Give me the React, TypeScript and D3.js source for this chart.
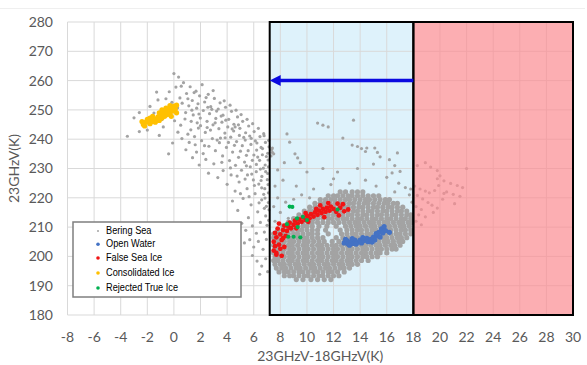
import React from "react";
import * as d3 from "d3";

// ---------- DATA ----------
const xTicks = [-8, -6, -4, -2, 0, 2, 4, 6, 8, 10, 12, 14, 16, 18, 20, 22, 24, 26, 28, 30];
const yTicks = [180, 190, 200, 210, 220, 230, 240, 250, 260, 270, 280];
const xTitle = "23GHzV-18GHzV(K)";
const yTitle = "23GHzV(K)";
const legendLabels = ["Bering Sea", "Open Water", "False Sea Ice", "Consolidated Ice", "Rejected True Ice"];

// Bering Sea – scattered cloud (x, y)
const beringScatter: [number, number][] = [
  [-0.35,256.2],[0.15,257.8],[0.45,254.1],[0.72,259.3],[0.95,255.6],[1.22,257.9],[1.38,253.2],[1.66,256.4],[1.93,254.8],
  [2.12,258.6],[2.31,252.7],[2.58,255.3],[2.77,251.1],[3.04,253.9],[3.21,249.6],[3.47,252.4],[3.69,248.2],[3.88,250.9],
  [4.12,246.8],[4.33,249.5],[4.51,245.1],[4.78,247.6],[4.96,243.7],[5.17,246.1],[5.39,242.2],[5.62,244.5],[5.81,240.3],
  [6.03,242.6],[6.24,238.7],[6.47,240.9],[6.66,236.8],[6.88,238.9],[7.05,235.2],
  [-0.15,252.6],[0.28,250.7],[0.62,252.3],[0.88,249.1],[1.12,251.4],[1.45,248.3],[1.71,250.6],[1.98,247.2],[2.21,249.8],
  [2.49,246.1],[2.68,248.7],[2.94,244.9],[3.15,247.1],[3.38,243.6],[3.61,245.8],[3.83,242.1],[4.05,244.2],[4.27,240.7],
  [4.49,242.8],[4.71,239.2],[4.92,241.3],[5.14,237.8],[5.36,239.7],[5.58,236.1],[5.79,238.2],[6.01,234.6],[6.22,236.3],
  [6.44,232.8],[6.65,234.7],[6.86,231.2],[7.08,232.9],
  [0.05,246.3],[0.51,244.8],[0.83,246.9],[1.27,243.2],[1.55,240.9],[1.84,243.8],[2.08,239.5],[2.36,242.3],[2.63,237.6],
  [2.89,240.2],[3.12,236.1],[3.42,238.8],[3.66,234.3],[3.95,237.2],[4.18,232.7],[4.41,235.6],[4.63,231.1],[4.86,233.8],
  [5.08,229.4],[5.31,232.2],[5.53,227.8],[5.74,230.6],[5.97,226.1],[6.19,228.9],[6.38,224.7],[6.61,227.3],[6.83,223.1],[7.02,226.2],
  [0.9,236.4],[1.4,233.7],[1.9,231.2],[2.2,235.1],[2.6,228.4],[3.0,231.6],[3.3,226.9],[3.7,229.3],[4.0,224.6],[4.3,227.8],
  [4.6,222.3],[4.9,225.4],[5.2,219.8],[5.5,223.1],[5.8,217.6],[6.1,221.4],[6.3,215.2],[6.6,219.3],[6.9,213.8],[7.1,218.4],
  [5.6,213.2],[5.9,210.4],[6.2,207.9],[6.5,211.6],[6.8,208.3],[5.4,208.9],[5.7,205.7],[6.0,203.2],[6.35,205.1],[6.7,202.4],
  [6.95,205.8],[5.9,200.3],[6.25,198.4],[6.6,196.7],[6.9,199.2],[7.05,194.8],[6.45,193.9],[5.3,204.6],[5.1,211.3],[4.8,215.7],
  [4.4,218.9],[5.0,221.4],[6.8,216.4],[7.0,210.6],[7.1,221.7],[6.5,229.8],[7.05,228.3],[6.2,231.4],[6.75,241.9],
  [-1.8,251.2],[-2.6,249.1],[-3.0,247.3],[-1.2,253.4],[-1.5,248.9],[-2.0,243.1],[-2.6,242.6],[-0.8,244.2],[-1.1,241.3],
  [-3.5,241.0],[-1.3,256.1],[-0.7,249.6],[-0.1,238.7],[-0.4,235.0],[0.6,240.2],[0.3,242.4],[-0.6,253.8],[-0.9,246.7],
  [0.35,261.2],[0.0,262.4],[1.6,238.1],[1.15,238.9],[2.0,244.6],[1.05,241.7],[2.4,233.1],[3.5,240.4],[4.1,238.9],[1.75,245.6],
  [2.85,250.2],[4.6,244.2],[5.45,234.5],[3.9,246.5],[2.5,244.0],[1.3,246.1],
  [0.55,258.1],[1.05,253.8],[1.52,255.9],[1.81,252.1],[2.42,254.2],[2.95,256.6],[3.33,250.3],[3.78,253.1],[4.22,251.6],
  [4.67,249.9],[5.05,248.4],[5.5,246.8],[5.92,245.3],[6.35,243.7],[6.78,241.2],[7.12,239.6],
  [1.35,249.9],[1.88,248.6],[2.55,250.9],[3.1,245.6],[3.55,247.9],[4.38,243.5],[4.85,244.9],[5.25,240.6],[5.7,241.1],
  [6.12,239.4],[6.55,237.2],[6.95,234.1],[7.15,237.4],
  [2.75,243.1],[3.25,239.7],[3.85,240.5],[4.55,237.9],[5.0,235.9],[5.45,230.9],[5.9,232.8],[6.3,233.9],[6.72,230.1],
  [7.1,230.6],[6.9,228.9],[6.55,225.9],[7.08,224.5],[6.75,221.2],[7.15,215.9],[6.85,219.9],[6.6,223.4],[7.12,212.3],[6.95,217.1],
  [2.3,237.8],[1.7,235.6],[3.6,232.1],[4.25,230.2],[4.75,227.4],[5.35,226.4],[5.85,228.1],[6.05,224.2],[6.4,218.3],[5.65,220.4],
  // inside the blue zone, above the dense mass
  [10.8,245.5],[11.2,244.8],[11.6,244.2],[13.5,246.5],[8.5,241.8],[8.7,239],[12.7,240.4],[13.4,238],[13.8,237.5],
  [14.1,236.8],[14.4,235.8],[7.4,237],[7.5,235],[9.1,235],[9.3,233.6],[9.5,232],[7.8,229.5],[8.3,232],[11.2,230],
  [12.3,228.8],[10,228.8],[14.4,226],[14.5,237],[15.1,237],[15.3,235.5],[15.5,234],[16.8,235.3],[16.2,233],
  [16.6,231],[17.0,229],[16.4,228.5],[16.0,227],[16.9,225],[17.4,223.5],[17.7,221],[16.6,222],[15.2,224],
  [13.2,225],[11.8,224.5],[10.5,223],[9.2,224],[8.2,226],[7.6,224],[7.8,220],[8.4,218.5],[9.0,219.5],[9.6,221],
  [8.0,215],[7.6,212],[8.6,213],[7.5,217],[10.2,220],[12,226.5],[13.8,230],[15,231.5],[7.35,236.5],[7.4,235.5],[7.3,234.3],
  // inside the red zone
  [18.3,231],[18.9,232],[19.3,230.5],[19.8,229.3],[20.0,227.5],[22,230],[19.8,226.5],[20.3,225.8],[20.8,224.9],
  [21.3,224.2],[21.7,223.5],[20.5,222],[21.0,221.2],[21.5,220.5],[20.2,219.5],[21.1,218],[18.1,224],[18.5,223],
  [18.9,222.3],[19.2,221.7],[19.6,222.5],[18.3,220.8],[18.7,219.6],[19.1,218.4],[19.4,217.5],[18.2,217],[18.6,216],
  [19.8,216.5],[18.4,214.2],[18.9,213.5],[18.2,212],[18.6,210.8],[19.5,215],[20.3,221.5],[19.9,224.2],[17.9,218.5],[17.8,223],
];

// Bering Sea – dense mass, by rows: [y, x values]
const beringDenseRows: [number, number[]][] = [
  [222.0, [12.5, 12.9, 13.4, 13.8, 14.2]],
  [220.7, [11.6, 12.0, 12.3, 12.7, 13.1, 13.4, 13.8, 14.2, 14.6, 15.0, 15.4]],
  [219.4, [11.0, 11.4, 11.8, 12.1, 12.5, 12.9, 13.2, 13.6, 14.0, 14.4, 14.7, 15.1, 15.5, 15.9, 16.2]],
  [218.1, [10.6, 11.0, 11.3, 11.7, 12.1, 12.4, 12.8, 13.2, 13.5, 13.9, 14.3, 14.6, 15.0, 15.4, 15.8, 16.1, 16.5, 16.8]],
  [216.8, [10.2, 10.6, 10.9, 11.3, 11.7, 12.0, 12.4, 12.8, 13.1, 13.5, 13.9, 14.2, 14.6, 15.0, 15.3, 15.7, 16.1, 16.4, 16.8, 17.2]],
  [215.5, [9.8, 10.2, 10.5, 10.9, 11.3, 11.6, 12.0, 12.4, 12.7, 13.1, 13.5, 13.8, 14.2, 14.6, 14.9, 15.3, 15.7, 16.0, 16.4, 16.8, 17.1, 17.5]],
  [214.2, [9.4, 9.8, 10.1, 10.5, 10.9, 11.2, 11.6, 12.0, 12.3, 12.7, 13.1, 13.4, 13.8, 14.2, 14.5, 14.9, 15.3, 15.6, 16.0, 16.4, 16.7, 17.1, 17.5, 17.8]],
  [212.9, [9.0, 9.4, 9.7, 10.1, 10.5, 10.8, 11.2, 11.6, 11.9, 12.3, 12.7, 13.0, 13.4, 13.8, 14.1, 14.5, 14.9, 15.2, 15.6, 16.0, 16.3, 16.7, 17.1, 17.4, 17.8]],
  [211.6, [8.6, 9.0, 9.3, 9.7, 10.1, 10.4, 10.8, 11.2, 11.6, 12.0, 12.4, 12.8, 13.2, 13.6, 13.9, 14.3, 14.7, 15.0, 15.4, 15.8, 16.1, 16.5, 16.9, 17.2, 17.6, 17.9]],
  [210.3, [8.2, 8.6, 8.9, 9.3, 9.7, 10.0, 10.4, 10.9, 11.5, 12.2, 12.9, 13.3, 13.7, 14.0, 14.4, 14.8, 15.1, 15.5, 15.9, 16.2, 16.6, 17.0, 17.3, 17.7]],
  [209.0, [7.8, 8.2, 8.5, 8.9, 9.3, 9.6, 10.0, 10.4, 10.8, 11.4, 12.5, 13.0, 13.4, 13.8, 14.1, 14.5, 14.9, 15.2, 15.6, 16.0, 16.3, 16.7, 17.1, 17.4, 17.8]],
  [207.7, [7.5, 7.9, 8.2, 8.6, 9.0, 9.3, 9.7, 10.1, 10.4, 10.8, 11.6, 12.6, 13.0, 13.4, 13.7, 14.1, 14.5, 14.8, 15.2, 15.6, 15.9, 16.3, 16.7, 17.0, 17.4, 17.8]],
  [206.4, [7.5, 7.8, 8.2, 8.6, 8.9, 9.3, 9.7, 10.0, 10.4, 10.8, 11.2, 12.2, 12.7, 13.1, 13.5, 13.8, 14.2, 14.6, 14.9, 15.3, 15.7, 16.0, 16.4, 16.8, 17.1, 17.5]],
  [205.1, [7.6, 7.9, 8.3, 8.7, 9.0, 9.4, 9.8, 10.1, 10.5, 10.9, 11.3, 11.9, 12.4, 12.8, 13.2, 13.6, 13.9, 14.3, 14.7, 15.0, 15.4, 15.8, 16.1, 16.5, 16.9, 17.2]],
  [203.8, [7.5, 7.8, 8.2, 8.6, 8.9, 9.3, 9.7, 10.0, 10.4, 10.8, 11.1, 11.5, 11.9, 12.2, 12.6, 13.0, 13.3, 13.7, 14.1, 14.4, 14.8, 15.2, 15.5, 15.9, 16.3, 16.6, 17.0]],
  [202.5, [7.6, 7.9, 8.3, 8.7, 9.0, 9.4, 9.8, 10.1, 10.5, 10.9, 11.2, 11.6, 12.0, 12.3, 12.7, 13.1, 13.4, 13.8, 14.2, 14.5, 14.9, 15.3, 15.6, 16.0, 16.4, 16.7]],
  [201.2, [7.5, 7.8, 8.2, 8.6, 8.9, 9.3, 9.7, 10.0, 10.4, 10.8, 11.1, 11.5, 11.9, 12.2, 12.6, 13.0, 13.3, 13.7, 14.1, 14.4, 14.8, 15.2, 15.5, 16.0]],
  [199.9, [7.6, 7.9, 8.3, 8.7, 9.0, 9.4, 9.8, 10.1, 10.5, 10.9, 11.2, 11.6, 12.0, 12.3, 12.7, 13.1, 13.4, 13.8, 14.2, 14.5, 14.9, 15.3]],
  [198.6, [7.5, 7.8, 8.2, 8.6, 8.9, 9.3, 9.7, 10.0, 10.4, 10.8, 11.1, 11.5, 11.9, 12.2, 12.6, 13.0, 13.3, 13.7, 14.1, 14.6]],
  [197.3, [7.6, 8.0, 8.3, 8.7, 9.1, 9.4, 9.8, 10.2, 10.5, 10.9, 11.3, 11.6, 12.0, 12.4, 12.7, 13.1, 13.4, 13.8]],
  [196.0, [7.7, 8.1, 8.4, 8.8, 9.2, 9.5, 9.9, 10.3, 10.6, 11.0, 11.4, 11.7, 12.1, 12.5, 12.8, 13.2]],
  [194.7, [7.9, 8.3, 8.6, 9.0, 9.4, 9.7, 10.1, 10.5, 10.8, 11.2, 11.6, 11.9, 12.3, 12.8]],
  [193.4, [8.3, 8.7, 9.0, 9.4, 9.8, 10.1, 10.5, 10.9, 11.2, 11.6, 12.0, 12.4]],
  [192.1, [9.2, 9.7, 10.3, 10.8, 11.3, 11.8]],
];

const openWater: [number, number][] = [
  [12.8,204.6],[13.0,205.4],[13.1,204.2],[13.3,205],[13.5,204.4],[13.6,205.6],[13.8,204.8],[14.0,205.6],
  [14.1,204.6],[14.3,205.4],[14.5,206.2],[14.6,205],[14.8,205.8],[15.0,206.6],[15.1,205.6],[15.3,207],
  [15.4,208.2],[15.5,206.6],[15.6,209.4],[15.7,208],[15.8,210.2],[15.9,208.8],[16.2,208.2],[13.4,206.1],
  [12.9,205.8],[14.2,206.4],[15.2,207.8],[13.7,204.2],[14.9,204.9],[13.2,203.8],
];

const falseSeaIce: [number, number][] = [
  [7.5,202],[7.6,203.5],[7.5,205],[7.7,206.5],[7.6,208],[7.8,209.5],[7.9,204],[8.0,202.6],[8.1,205.6],
  [8.0,207.5],[8.2,209],[8.3,210.5],[8.4,207],[8.5,208.7],[8.6,210.2],[8.7,211.5],[8.8,209.6],[9.0,210.8],
  [9.1,212.2],[9.3,211.2],[9.4,212.6],[9.6,211.8],[9.7,213.3],[9.9,212.4],[10.0,213.8],[10.2,213],
  [10.3,214.4],[10.5,213.6],[10.6,215],[10.8,214.2],[10.9,215.6],[11.1,214.8],[11.2,216.2],[11.4,215.2],
  [11.5,216.6],[11.7,215.6],[11.8,217],[12.0,216.2],[12.2,215.2],[12.5,216.6],[12.8,215.4],[13.1,216],
  [12.4,214],[7.7,200.6],[8.1,200.2],[8.3,203.2],[7.9,211.2],[9.9,214.8],[10.7,216.2],[11.3,213.4],
  [9.2,209.6],[10.1,211.8],[12.3,218],[12.7,217.8],[11.6,218.2],[11.0,217.4],[7.7,201.2],[8.2,206.2],
];

const consolidatedIce: [number, number][] = [
  [-2.3,245],[-2.1,245.8],[-2.2,244.5],[-1.9,246.2],[-1.8,245.3],[-2.0,246.8],[-1.6,246],[-1.5,247],
  [-1.4,245.8],[-1.3,246.7],[-1.2,247.6],[-1.1,246.4],[-1.0,248.2],[-0.9,247.2],[-0.8,248.8],[-0.7,247.8],
  [-0.6,249.5],[-0.5,248.4],[-0.4,250.2],[-0.3,249],[-0.2,250.8],[-0.1,249.6],[0.0,251.3],[0.1,250.2],
  [0.2,251.6],[-0.6,250.6],[-0.3,251.5],[-1.1,249],[-1.6,247.8],[-0.9,250],[0.2,249],[-0.2,247.8],
  [-1.8,247.2],[-2.4,246],
];

const rejectedTrueIce: [number, number][] = [
  [8.7,217],[9.25,213],[9.7,213.5],[8.5,211],[9.3,210],[8.6,206.7],[9.0,206.7],[9.5,206.5],[12.3,216],
  [8.9,216.9],[10.0,212.4],
];

const blueZone = [7.2, 18];
const redZone = [18, 30];
const arrowY = 260;

// ---------- CHART ----------
const W = 587, H = 365;
const x = d3.scaleLinear().domain([-8, 30]).range([67.5, 573]);
const y = d3.scaleLinear().domain([180, 280]).range([315, 22]);

const COLORS = {
  bering: "#a3a3a3",
  open: "#4472c4",
  falseIce: "#f01414",
  consolidated: "#ffc000",
  rejected: "#00b050",
};

const tickFont = "Lato, 'Open Sans', sans-serif";

export default function App() {
  const dense: [number, number][] = [];
  beringDenseRows.forEach(([yy, xs]) => xs.forEach((xx) => dense.push([xx, yy])));

  const [y0, y1] = y.range();
  const ax0 = x(blueZone[1]);
  const ax1 = x(blueZone[0]);
  const ay = y(arrowY);

  const legendY = [230, 243.2, 257, 272, 287];
  const legendColors = [COLORS.bering, COLORS.open, COLORS.falseIce, COLORS.consolidated, COLORS.rejected];

  return (
    <svg width={W} height={H} style={{ position: "absolute", left: 0, top: 0, background: "#fff" }}>
      <line x1={0} x2={585} y1={8.5} y2={8.5} stroke="#efefef" />
      {/* blue zone fill */}
      <rect x={x(blueZone[0])} y={y1} width={x(blueZone[1]) - x(blueZone[0])} height={y0 - y1} fill="#def2fb" />
      {/* grid */}
      {xTicks.map((t) => (
        <line key={"gx" + t} x1={x(t)} x2={x(t)} y1={y(180)} y2={y(280)} stroke="#d9d9d9" strokeWidth={1} />
      ))}
      {yTicks.map((t) => (
        <line key={"gy" + t} x1={x(-8)} x2={x(30)} y1={y(t)} y2={y(t)} stroke="#d9d9d9" strokeWidth={1} />
      ))}
      {/* Bering Sea points */}
      {dense.map((d, i) => (
        <circle key={"bd" + i} cx={x(d[0])} cy={y(d[1])} r={2.6} fill={COLORS.bering} />
      ))}
      {beringScatter.map((d, i) => (
        <circle key={"b" + i} cx={x(d[0])} cy={y(d[1])} r={1.6} fill={COLORS.bering} />
      ))}
      {openWater.map((d, i) => (
        <circle key={"o" + i} cx={x(d[0])} cy={y(d[1])} r={2.6} fill={COLORS.open} />
      ))}
      {consolidatedIce.map((d, i) => (
        <circle key={"c" + i} cx={x(d[0])} cy={y(d[1])} r={2.6} fill={COLORS.consolidated} />
      ))}
      {falseSeaIce.map((d, i) => (
        <circle key={"f" + i} cx={x(d[0])} cy={y(d[1])} r={2.4} fill={COLORS.falseIce} />
      ))}
      {rejectedTrueIce.map((d, i) => (
        <circle key={"r" + i} cx={x(d[0])} cy={y(d[1])} r={2.1} fill={COLORS.rejected} />
      ))}
      {/* red zone overlay */}
      <rect x={x(redZone[0])} y={y1} width={x(redZone[1]) - x(redZone[0])} height={y0 - y1} fill="rgb(251,140,146)" fillOpacity={0.7} />
      {/* zone borders */}
      <rect x={x(blueZone[0])} y={y1} width={x(blueZone[1]) - x(blueZone[0])} height={y0 - y1} fill="none" stroke="#000" strokeWidth={2} />
      <rect x={x(redZone[0])} y={y1} width={x(redZone[1]) - x(redZone[0])} height={y0 - y1} fill="none" stroke="#000" strokeWidth={2} />
      {/* arrow */}
      <line x1={ax0} x2={ax1 + 10} y1={ay} y2={ay} stroke="#0a0ae0" strokeWidth={3.5} />
      <path d={`M${ax1},${ay} L${ax1 + 11},${ay - 5.5} L${ax1 + 11},${ay + 5.5} Z`} fill="#0a0ae0" />
      {/* tick labels */}
      {yTicks.map((t) => (
        <text key={"ty" + t} x={53} y={y(t)} dy="0.35em" textAnchor="end" fontFamily={tickFont} fontSize={14} fill="#595959">
          {t}
        </text>
      ))}
      {xTicks.map((t) => (
        <text key={"tx" + t} x={x(t)} y={342} textAnchor="middle" fontFamily={tickFont} fontSize={14} fill="#595959">
          {t}
        </text>
      ))}
      <text x={(x(-8) + x(30)) / 2} y={361} textAnchor="middle" fontFamily={tickFont} fontSize={14} fill="#595959">
        {xTitle}
      </text>
      <text transform={`translate(19,${(y0 + y1) / 2}) rotate(-90)`} textAnchor="middle" fontFamily={tickFont} fontSize={14} fill="#595959">
        {yTitle}
      </text>
      {/* legend */}
      <rect x={73} y={222} width={168} height={75} fill="#fff" stroke="#7f7f7f" strokeWidth={1.5} />
      {legendLabels.map((lab, i) => (
        <g key={lab}>
          <circle cx={98} cy={legendY[i] + 1} r={i === 0 ? 1 : 1.8} fill={legendColors[i]} />
          <text
            transform={`translate(106,${legendY[i]}) scale(0.8,1)`}
            dy="0.35em"
            fontFamily="'Liberation Sans', Arial, sans-serif"
            fontSize={11.5}
            fill="#000"
          >
            {lab}
          </text>
        </g>
      ))}
    </svg>
  );
}
